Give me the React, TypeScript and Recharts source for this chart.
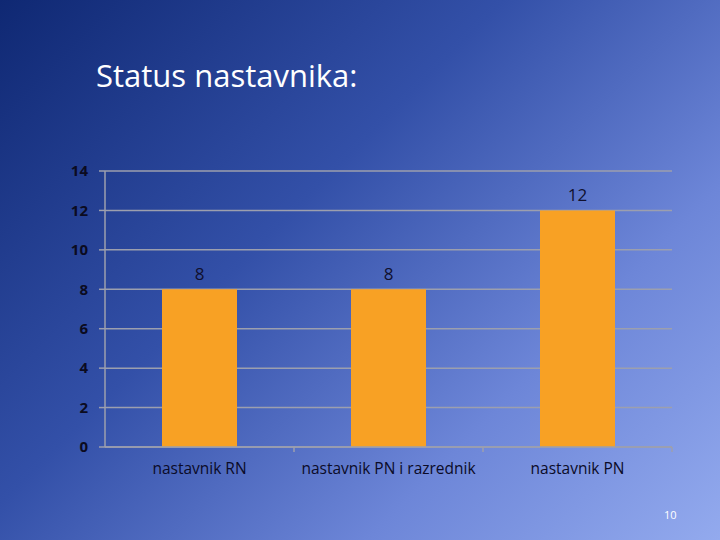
import { BarChart, Bar, XAxis, YAxis, CartesianGrid, LabelList } from "recharts"

const categories = ["nastavnik RN", "nastavnik PN i razrednik", "nastavnik PN"]
const counts = [8, 8, 12]
const yTicks = [0, 2, 4, 6, 8, 10, 12, 14]

const data = categories.map((name, i) => ({ name, count: counts[i] }))

const gridColor = "#9c9fae"
const font = "'Open Sans', 'Noto Sans', sans-serif"
const labelGap = 16

// category label, plus the small mark at the right edge of its band
const CategoryTick = (props: any) => {
  const { x, y, payload } = props
  const half = payload?.offset ?? 0
  const axisY = y - labelGap
  return (
    <g>
      {half > 0 && (
        <line x1={x + half} x2={x + half} y1={axisY} y2={axisY + 5} stroke={gridColor} strokeWidth={1.5} />
      )}
      <text x={x} y={y} dy="0.71em" textAnchor="middle" fill="#0b0b28" fontSize={15.5} fontFamily={font}>
        {payload.value}
      </text>
    </g>
  )
}

export default function App() {
  return (
    <div
      style={{
        position: "fixed",
        left: 0,
        top: 0,
        width: 720,
        height: 540,
        overflow: "hidden",
        background: "linear-gradient(135deg, #0f2873 0%, #3350a8 40%, #6d86d8 72%, #93aaee 100%)",
        fontFamily: font,
      }}
    >
      <div
        style={{
          position: "absolute",
          left: 96,
          top: 52,
          color: "#ffffff",
          fontSize: 31,
          lineHeight: "46px",
        }}
      >
        Status nastavnika:
      </div>
      <BarChart
        width={720}
        height={540}
        data={data}
        margin={{ top: 171, right: 48, bottom: 63, left: 45 }}
        barCategoryGap={57}
        style={{ position: "absolute", left: 0, top: 0 }}
      >
        <CartesianGrid vertical={false} stroke={gridColor} strokeWidth={1.5} />
        <XAxis
          dataKey="name"
          height={30}
          axisLine={{ stroke: gridColor, strokeWidth: 1.5 }}
          tickLine={false}
          tickSize={0}
          tickMargin={labelGap}
          tick={CategoryTick}
          interval={0}
        />
        <YAxis
          width={60}
          domain={[0, 14]}
          ticks={yTicks}
          interval={0}
          axisLine={{ stroke: gridColor, strokeWidth: 1.5 }}
          tickLine={{ stroke: gridColor, strokeWidth: 1.5 }}
          tickSize={6}
          tickMargin={11}
          tick={{ fill: "#0b0b20", fontSize: 15, fontWeight: 700, fontFamily: font }}
        />
        <Bar dataKey="count" fill="#f8a124" isAnimationActive={false}>
          <LabelList
            dataKey="count"
            position="top"
            offset={9}
            fill="#10102e"
            fontSize={17}
            fontFamily={font}
          />
        </Bar>
      </BarChart>
      <div
        style={{
          position: "absolute",
          left: 664,
          top: 507,
          color: "#ffffff",
          fontSize: 11,
        }}
      >
        10
      </div>
    </div>
  )
}
